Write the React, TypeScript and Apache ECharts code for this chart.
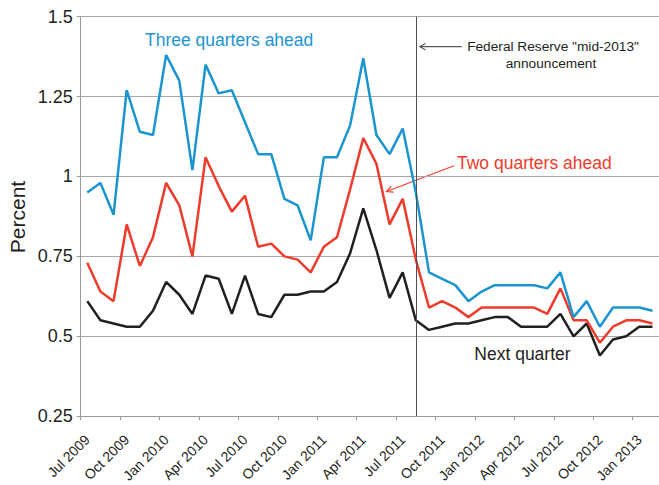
import React, { useEffect, useRef } from "react";
import * as echarts from "echarts";

const months = [
  "Jul 2009", "Aug 2009", "Sep 2009", "Oct 2009", "Nov 2009", "Dec 2009",
  "Jan 2010", "Feb 2010", "Mar 2010", "Apr 2010", "May 2010", "Jun 2010",
  "Jul 2010", "Aug 2010", "Sep 2010", "Oct 2010", "Nov 2010", "Dec 2010",
  "Jan 2011", "Feb 2011", "Mar 2011", "Apr 2011", "May 2011", "Jun 2011",
  "Jul 2011", "Aug 2011", "Sep 2011", "Oct 2011", "Nov 2011", "Dec 2011",
  "Jan 2012", "Feb 2012", "Mar 2012", "Apr 2012", "May 2012", "Jun 2012",
  "Jul 2012", "Aug 2012", "Sep 2012", "Oct 2012", "Nov 2012", "Dec 2012",
  "Jan 2013", "Feb 2013",
];

const threeQuartersAhead = [
  0.95, 0.98, 0.88, 1.27, 1.14, 1.13, 1.38, 1.30, 1.02, 1.35, 1.26, 1.27,
  1.17, 1.07, 1.07, 0.93, 0.91, 0.80, 1.06, 1.06, 1.16, 1.37, 1.13, 1.07,
  1.15, 0.95, 0.70, 0.68, 0.66, 0.61, 0.64, 0.66, 0.66, 0.66, 0.66, 0.65,
  0.70, 0.56, 0.61, 0.53, 0.59, 0.59, 0.59, 0.58,
];

const twoQuartersAhead = [
  0.73, 0.64, 0.61, 0.85, 0.72, 0.81, 0.98, 0.91, 0.75, 1.06, 0.97, 0.89,
  0.94, 0.78, 0.79, 0.75, 0.74, 0.70, 0.78, 0.81, 0.96, 1.12, 1.04, 0.85,
  0.93, 0.74, 0.59, 0.61, 0.59, 0.56, 0.59, 0.59, 0.59, 0.59, 0.59, 0.57,
  0.65, 0.55, 0.55, 0.48, 0.53, 0.55, 0.55, 0.54,
];

const nextQuarter = [
  0.61, 0.55, 0.54, 0.53, 0.53, 0.58, 0.67, 0.63, 0.57, 0.69, 0.68, 0.57,
  0.69, 0.57, 0.56, 0.63, 0.63, 0.64, 0.64, 0.67, 0.76, 0.90, 0.77, 0.62,
  0.70, 0.55, 0.52, 0.53, 0.54, 0.54, 0.55, 0.56, 0.56, 0.53, 0.53, 0.53,
  0.57, 0.50, 0.54, 0.44, 0.49, 0.50, 0.53, 0.53,
];

const announcementMonth = "Aug 2011";

const BLUE = "#1b95d0";
const RED = "#ee3b2b";
const BLACK = "#231f20";
const FONT = "'Liberation Sans', Arial, Helvetica, sans-serif";

export default function App() {
  const ref = useRef<HTMLDivElement>(null);

  useEffect(() => {
    if (!ref.current) return;
    const chart = echarts.init(ref.current, null, { renderer: "svg" });
    const lineSeries = (name: string, data: number[], color: string) => ({
      name,
      type: "line",
      data,
      symbol: "none",
      lineStyle: { color, width: 2.5 },
      itemStyle: { color },
      silent: true,
    });
    chart.setOption({
      animation: false,
      textStyle: { fontFamily: FONT },
      grid: { left: 80.7, top: 16.7, right: -4, bottom: 67.3 },
      xAxis: {
        type: "category",
        data: months,
        boundaryGap: true,
        axisLine: { show: true, lineStyle: { color: "#9a9a9a", width: 1 } },
        axisTick: { show: true, interval: 2, length: 4, lineStyle: { color: "#9a9a9a" } },
        axisLabel: {
          interval: 2,
          rotate: 45,
          fontSize: 14,
          color: BLACK,
          fontFamily: FONT,
          margin: 21,
        },
        splitLine: { show: false },
      },
      yAxis: {
        type: "value",
        min: 0.25,
        max: 1.5,
        interval: 0.25,
        axisLine: { show: true, lineStyle: { color: "#9a9a9a", width: 1 } },
        axisTick: { show: true, length: 4, lineStyle: { color: "#9a9a9a" } },
        axisLabel: { fontSize: 18, color: BLACK, fontFamily: FONT, margin: 8 },
        splitLine: { show: true, lineStyle: { color: "#a8a8a8", width: 1 } },
      },
      series: [
        {
          ...lineSeries("Next quarter", nextQuarter, BLACK),
          markLine: {
            silent: true,
            symbol: "none",
            label: { show: false },
            lineStyle: { color: "#505050", width: 1, type: "solid" },
            data: [{ xAxis: announcementMonth }],
          },
        },
        lineSeries("Two quarters ahead", twoQuartersAhead, RED),
        lineSeries("Three quarters ahead", threeQuartersAhead, BLUE),
      ],
      graphic: [
        {
          type: "text",
          x: 17,
          y: 217,
          rotation: Math.PI / 2,
          style: {
            text: "Percent",
            fontSize: 21,
            fontFamily: FONT,
            fill: BLACK,
            align: "center",
            verticalAlign: "middle",
          },
        },
        {
          type: "text",
          x: 145,
          y: 40,
          style: {
            text: "Three quarters ahead",
            fontSize: 17.5,
            fontFamily: FONT,
            fill: BLUE,
            align: "left",
            verticalAlign: "middle",
          },
        },
        {
          type: "text",
          x: 457,
          y: 162.7,
          style: {
            text: "Two quarters ahead",
            fontSize: 17.5,
            fontFamily: FONT,
            fill: RED,
            align: "left",
            verticalAlign: "middle",
          },
        },
        {
          type: "text",
          x: 474.3,
          y: 354.3,
          style: {
            text: "Next quarter",
            fontSize: 17.5,
            fontFamily: FONT,
            fill: BLACK,
            align: "left",
            verticalAlign: "middle",
          },
        },
        {
          type: "text",
          x: 553,
          y: 46.5,
          style: {
            text: 'Federal Reserve "mid-2013"',
            fontSize: 13.7,
            fontFamily: FONT,
            fill: BLACK,
            align: "center",
            verticalAlign: "middle",
          },
        },
        {
          type: "text",
          x: 551,
          y: 63.5,
          style: {
            text: "announcement",
            fontSize: 13.7,
            fontFamily: FONT,
            fill: BLACK,
            align: "center",
            verticalAlign: "middle",
          },
        },
        {
          type: "line",
          shape: { x1: 461.7, y1: 46.7, x2: 419.8, y2: 46.7 },
          style: { stroke: "#333333", lineWidth: 1 },
        },
        {
          type: "polyline",
          shape: { points: [[425.5, 43.5], [419.8, 46.7], [425.5, 49.9]] },
          style: { stroke: "#333333", lineWidth: 1, fill: "none" },
        },
        {
          type: "line",
          shape: { x1: 454, y1: 165.7, x2: 386.5, y2: 191.5 },
          style: { stroke: RED, lineWidth: 1.2 },
        },
        {
          type: "polyline",
          shape: { points: [[393.5, 192.2], [386.5, 191.5], [391.2, 186.4]] },
          style: { stroke: RED, lineWidth: 1.2, fill: "none" },
        },
      ],
    });
    return () => chart.dispose();
  }, []);

  return (
    <div
      ref={ref}
      style={{ position: "absolute", left: 0, top: 0, width: 659, height: 485, background: "#fff" }}
    />
  );
}
